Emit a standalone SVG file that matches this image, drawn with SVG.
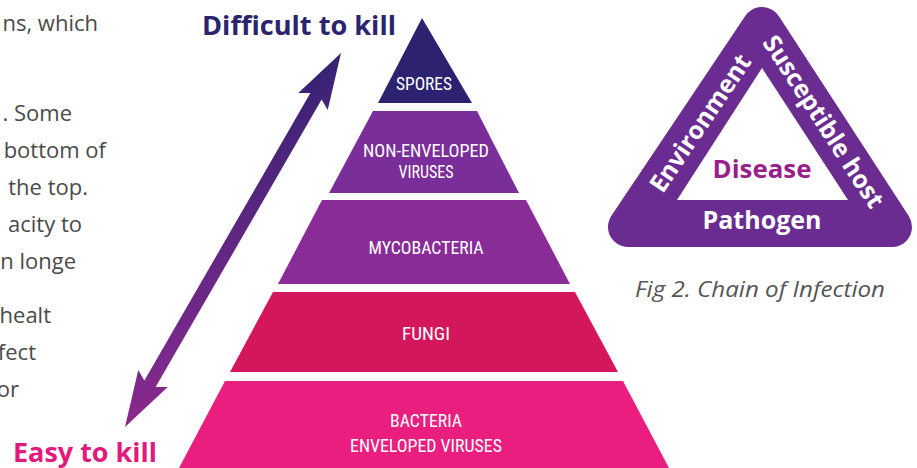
<svg xmlns="http://www.w3.org/2000/svg" width="917" height="468" viewBox="0 0 917 468">
  <defs>
    <linearGradient id="arrowGrad" gradientUnits="userSpaceOnUse" x1="341" y1="53" x2="125" y2="427">
      <stop offset="0" stop-color="#2f2170"/>
      <stop offset="0.45" stop-color="#7a2a8c"/>
      <stop offset="1" stop-color="#e3197e"/>
    </linearGradient>
    <style>
      .body { font-family: "Open Sans", "Noto Sans", sans-serif; font-size: 22px; fill: #4a4a4a; }
      .cap { font-family: "Open Sans", "Noto Sans", sans-serif; font-size: 22px; font-style: italic; fill: #555555; }
      .layer { font-family: "Liberation Sans Narrow", "Roboto Condensed", "Liberation Sans", sans-serif; font-size: 19px; fill: #ffffff; text-anchor: middle; }
      .head { font-family: "Open Sans", "Noto Sans", sans-serif; font-size: 27px; font-weight: bold; }
      .tri { font-family: "Open Sans", "Noto Sans", sans-serif; font-size: 25px; font-weight: bold; text-anchor: middle; }
    </style>
  </defs>

  <rect width="917" height="468" fill="#ffffff"/>

  <g id="body-text">
    <text class="body" x="98" y="31" text-anchor="end">ns, which</text>
    <text class="body" x="72" y="121" text-anchor="end">. Some</text>
    <text class="body" x="106" y="158" text-anchor="end">bottom of</text>
    <text class="body" x="88" y="195" text-anchor="end">the top.</text>
    <text class="body" x="82" y="232" text-anchor="end">acity to</text>
    <text class="body" x="76" y="269" text-anchor="end">n longe</text>
    <text class="body" x="51" y="323" text-anchor="end">healt</text>
    <text class="body" x="36" y="360" text-anchor="end">fect</text>
    <text class="body" x="19" y="397" text-anchor="end">or</text>
  </g>

  <g id="connectors">
    <g transform="translate(233,240) rotate(-60)">
      <polygon fill="url(#arrowGrad)" points="216,0 160,-17 166,-6.5 -166,-6.5 -160,-17 -216,0 -160,17 -166,6.5 166,6.5 160,17"/>
    </g>
  </g>

  <g id="label-difficult">
    <text class="head" x="202" y="35" fill="#2b2470" textLength="194" lengthAdjust="spacingAndGlyphs">Difficult to kill</text>
  </g>
  <g id="label-easy">
    <text class="head" x="13" y="462" fill="#e3197e" textLength="144" lengthAdjust="spacingAndGlyphs">Easy to kill</text>
  </g>

  <g id="layer-spores">
    <polygon fill="#2c2270" points="422,18 472,103 378,103"/>
    <text class="layer" x="424" y="90" textLength="56" lengthAdjust="spacingAndGlyphs">SPORES</text>
  </g>
  <g id="layer-nonenveloped">
    <polygon fill="#7a2e99" points="373,111 477,111 519,193 329,193"/>
    <text class="layer" x="426" y="157" textLength="126" lengthAdjust="spacingAndGlyphs">NON-ENVELOPED</text>
    <text class="layer" x="426" y="178" textLength="55" lengthAdjust="spacingAndGlyphs">VIRUSES</text>
  </g>
  <g id="layer-mycobacteria">
    <polygon fill="#8a2c97" points="322,200 526,200 570,284 278,284"/>
    <text class="layer" x="426" y="254" textLength="115" lengthAdjust="spacingAndGlyphs">MYCOBACTERIA</text>
  </g>
  <g id="layer-fungi">
    <polygon fill="#d4165c" points="273,292 575,292 618,372 230,372"/>
    <text class="layer" x="426" y="340" textLength="48" lengthAdjust="spacingAndGlyphs">FUNGI</text>
  </g>
  <g id="layer-bacteria">
    <polygon fill="#ea1e7e" points="225,381 623,381 669,468 179,468"/>
    <text class="layer" x="426" y="427" textLength="72" lengthAdjust="spacingAndGlyphs">BACTERIA</text>
    <text class="layer" x="426" y="452" textLength="152" lengthAdjust="spacingAndGlyphs">ENVELOPED VIRUSES</text>
  </g>

  <g id="chain-triangle">
    <polygon fill="#6b2c91" stroke="#6b2c91" stroke-width="40" stroke-linejoin="round" points="762,27 628,227 892,227"/>
    <polygon fill="#ffffff" points="762,68 848,200 677,200"/>
    <text class="tri" x="762" y="178" fill="#9a1f8c" textLength="99" lengthAdjust="spacingAndGlyphs">Disease</text>
    <text class="tri" x="762" y="229" fill="#ffffff" textLength="119" lengthAdjust="spacingAndGlyphs">Pathogen</text>
    <text class="tri" fill="#ffffff" transform="translate(700,123) rotate(-56)" x="0" y="9" textLength="160" lengthAdjust="spacingAndGlyphs">Environment</text>
    <text class="tri" fill="#ffffff" transform="translate(823,122) rotate(57)" x="0" y="8" textLength="200" lengthAdjust="spacingAndGlyphs">Susceptible host</text>
  </g>

  <g id="caption">
    <text class="cap" x="635" y="297" textLength="250" lengthAdjust="spacingAndGlyphs">Fig 2. Chain of Infection</text>
  </g>
</svg>
